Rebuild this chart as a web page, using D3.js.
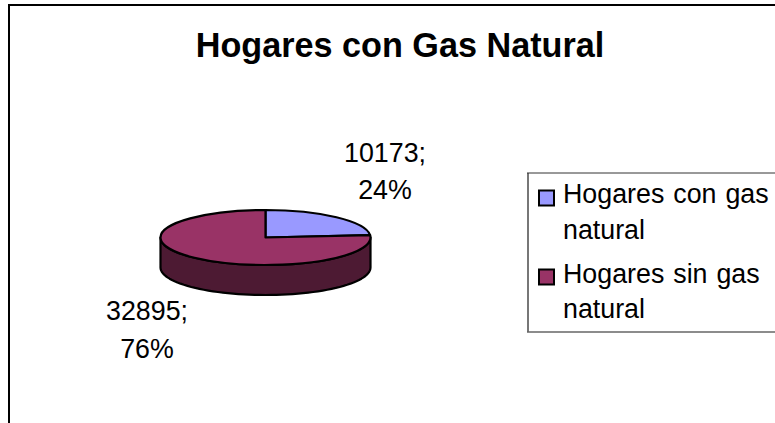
<!DOCTYPE html>
<html><head><meta charset="utf-8">
<script src="https://cdn.jsdelivr.net/npm/d3@7"></script>
<style>html,body{margin:0;padding:0;background:#fff;overflow:hidden}svg{display:block}text{font-family:"Liberation Sans",Arial,sans-serif;fill:#000}</style>
</head><body><svg id="c" width="775" height="423"></svg>
<script>
const categories = ["Hogares con gas natural", "Hogares sin gas natural"];
const values = [10173, 32895];
const percents = ["24%", "76%"];
const legendLines = [["Hogares con gas", "natural"], ["Hogares sin gas", "natural"]];
const colors = ["#9999ff", "#993366"];
const sideColor = "#4d1a33";
const titleText = "Hogares con Gas Natural";

const svg = d3.select("#c");
// chart frame
svg.append("path").attr("d", "M9,423V5H775").attr("fill", "none").attr("stroke", "#000").attr("stroke-width", 2);
svg.append("text").attr("x", 400).attr("y", 57).attr("text-anchor", "middle")
  .attr("font-size", 34.2).attr("font-weight", "bold").text(titleText);

// pie
const cx = 265.5, cy = 237.5, rx = 105, ry = 27.5, depth = 30;
const pie = d3.pie().sort(null).value(d => d)(values);
const arc = d3.arc().innerRadius(0).outerRadius(rx);
const g = svg.append("g").attr("transform", `translate(${cx},${cy})`);
const proj = a => [rx * Math.sin(a), -ry * Math.cos(a)];
// side wall: visible front rim
const rim = d3.range(90, 271, 3).map(d => d * Math.PI / 180);
const side = d3.path();
rim.forEach((a, i) => { const [x, y] = proj(a); i ? side.lineTo(x, y + depth) : side.moveTo(x, y + depth); });
rim.slice().reverse().forEach(a => { const [x, y] = proj(a); side.lineTo(x, y); });
side.closePath();
g.append("path").attr("d", side.toString()).attr("fill", sideColor).attr("stroke", "#000").attr("stroke-width", 2.2).attr("stroke-linejoin", "round");
// top faces
g.selectAll("path.top").data(pie).join("path").attr("class", "top")
  .attr("d", arc).attr("transform", `scale(1,${ry / rx})`)
  .attr("fill", (d, i) => colors[i]).attr("stroke", "#000").attr("stroke-width", 2.2)
  .attr("stroke-linejoin", "round").attr("vector-effect", "non-scaling-stroke");

// data labels
const labelPos = [[385, 162, 199], [147, 320, 358]];
values.forEach((v, i) => {
  const [x, y1, y2] = labelPos[i];
  svg.append("text").attr("x", x).attr("y", y1).attr("text-anchor", "middle").attr("font-size", 26.8).text(v + ";");
  svg.append("text").attr("x", x).attr("y", y2).attr("text-anchor", "middle").attr("font-size", 26.8).text(percents[i]);
});

// legend
svg.append("path").attr("d", "M528,332V173").attr("fill", "none").attr("stroke", "#777").attr("stroke-width", 2);
svg.append("path").attr("d", "M527,173H775").attr("fill", "none").attr("stroke", "#333").attr("stroke-width", 1);
svg.append("path").attr("d", "M527,332H775").attr("fill", "none").attr("stroke", "#666").attr("stroke-width", 1.5);
const rows = [[203, 239], [283, 318]];
const swatchY = [198, 277];
categories.forEach((c, i) => {
  svg.append("rect").attr("x", 539).attr("y", swatchY[i] - 7.5).attr("width", 15).attr("height", 15)
    .attr("fill", colors[i]).attr("stroke", "#000").attr("stroke-width", 2);
  legendLines[i].forEach((t, j) => {
    svg.append("text").attr("x", 563).attr("y", rows[i][j]).attr("font-size", 26.8).attr("word-spacing", 1.5).text(t);
  });
});
</script></body></html>
